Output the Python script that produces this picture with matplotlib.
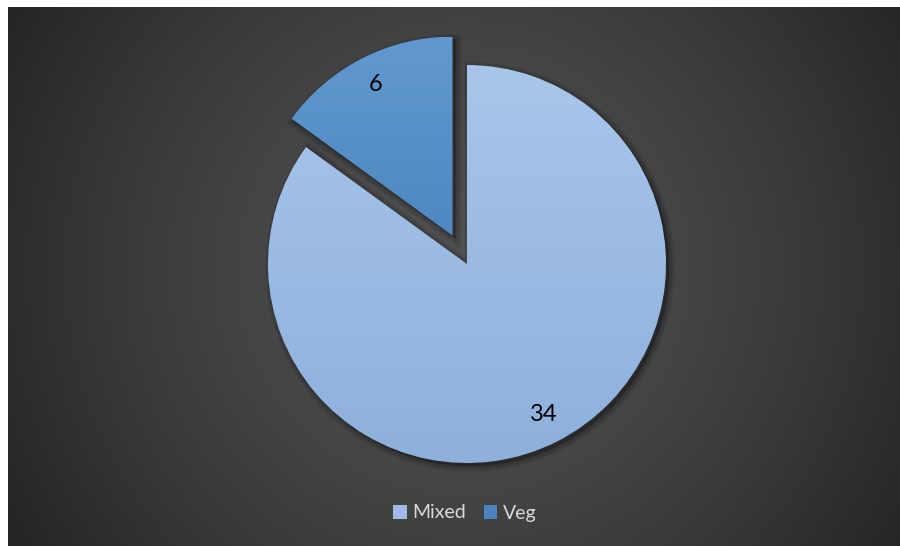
import numpy as np
import matplotlib
matplotlib.use("Agg")
import matplotlib.pyplot as plt
from matplotlib.patches import Wedge, Patch

# Data
categories = ["Mixed", "Veg"]
values = [34, 6]
explode_frac = [0.0, 0.16]

# Styling
top_colors = ["#a9c6ea", "#6198cf"]
bottom_colors = ["#8db0dc", "#3c77b4"]
legend_colors = ["#9dbde6", "#4a84c0"]
label_font = ["Lato", "DejaVu Sans"]

W, H = 900, 546
fig = plt.figure(figsize=(W / 100, H / 100), dpi=100)
fig.patch.set_facecolor("white")

# Dark radial background
bg_ax = fig.add_axes([8 / W, 0, 1 - 8 / W, 1 - 7 / H])
bg_ax.set_axis_off()
yy, xx = np.mgrid[0:539, 0:892]
d = np.hypot(xx - 455, yy - 262) / 520.0
d = np.clip(d, 0, 1)
c0, c1 = 0x52 / 255, 0x25 / 255
g = c0 - (c0 - c1) * d ** 1.4
bg_ax.imshow(np.dstack([g, g, g]), aspect="auto", interpolation="bilinear")

# Pie axes in pixel units
ax = fig.add_axes([0, 0, 1, 1])
ax.set_axis_off()
R = 199
center = (467, H - 264)
total = sum(values)

wedges, texts, autotexts = ax.pie(
    values,
    center=center,
    radius=R,
    startangle=90,
    counterclock=False,
    explode=[e * R for e in explode_frac],
    autopct=lambda p: f"{round(p * total / 100)}",
    pctdistance=0.85,
    textprops=dict(color="black", fontsize=17, family=label_font),
    wedgeprops=dict(linewidth=0),
)

for w, ct, cb in zip(wedges, top_colors, bottom_colors):
    cx, cy = w.center
    # soft shadow, offset down-right
    for k in range(1, 8):
        sh = Wedge((cx + 3, cy - 3), R, w.theta1, w.theta2,
                   facecolor="black", edgecolor="black",
                   linewidth=1.3 * k, alpha=0.035, zorder=0.5)
        ax.add_patch(sh)
    w.set_facecolor("none")
    w.set_zorder(1)
    # vertical gradient fill clipped to the wedge
    t = np.linspace(0, 1, 256)[:, None]
    a = np.array(matplotlib.colors.to_rgb(ct))
    b = np.array(matplotlib.colors.to_rgb(cb))
    img = a[None, None, :] * (1 - t[..., None]) + b[None, None, :] * t[..., None]
    im = ax.imshow(img, extent=[cx - R, cx + R, cy - R, cy + R],
                   aspect="auto", interpolation="bilinear", zorder=1)
    im.set_clip_path(w)

for t in autotexts:
    t.set_zorder(3)

ax.set_xlim(0, W)
ax.set_ylim(0, H)

handles = [Patch(facecolor=c, edgecolor="none") for c in legend_colors]
leg = fig.legend(handles, categories, loc="center", bbox_to_anchor=(465 / W, 1 - 513 / H),
                 ncol=2, frameon=False, handlelength=0.7, handleheight=0.7,
                 handletextpad=0.3, columnspacing=0.9,
                 prop=dict(family=label_font, size=14))
for txt in leg.get_texts():
    txt.set_color("#d9d9d9")

fig.savefig("out.png", dpi=100, facecolor="white")
